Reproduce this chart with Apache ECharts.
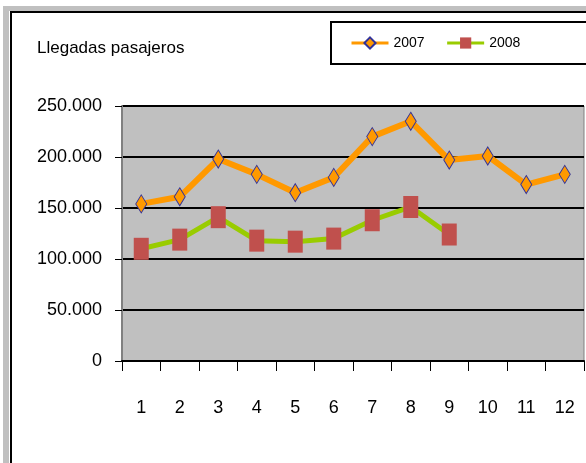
<!DOCTYPE html>
<html>
<head>
<meta charset="utf-8">
<script src="https://cdn.jsdelivr.net/npm/echarts@6/dist/echarts.min.js"></script>
<style>
html,body{margin:0;padding:0;background:#fff;}
#chart{width:586px;height:463px;}
</style>
</head>
<body>
<div id="chart"></div>
<script>
const months = ['1','2','3','4','5','6','7','8','9','10','11','12'];
const llegadas2007 = [154000, 161000, 198000, 183000, 165000, 180000, 220000, 235000, 197000, 201000, 173000, 183000];
const llegadas2008 = [110000, 119000, 141000, 118000, 117000, 120000, 138000, 151000, 124000];
const titleText = 'Llegadas pasajeros';
const seriesNames = ['2007', '2008'];

const FONT = '"Liberation Sans", Arial, sans-serif';

function fmt(v) {
  return String(v).replace(/\B(?=(\d{3})+(?!\d))/g, '.');
}

const chart = echarts.init(document.getElementById('chart'), null, {renderer: 'canvas'});
chart.setOption({
  animation: false,
  backgroundColor: '#fff',
  graphic: [
    {type: 'rect', z: -10, shape: {x: 3, y: 6, width: 700, height: 700}, style: {fill: '#C0C0C0'}},
    {type: 'rect', z: -9, shape: {x: 9, y: 11, width: 700, height: 700}, style: {fill: '#fff'}},
    {type: 'rect', z: -8, shape: {x: 11, y: 12, width: 700, height: 700}, style: {fill: '#fff', stroke: '#000', lineWidth: 2}},
    {type: 'rect', z: -7, shape: {x: 331, y: 22, width: 300, height: 42}, style: {fill: '#fff', stroke: '#000', lineWidth: 2}}
  ],
  title: {
    text: titleText,
    left: 37,
    top: 38,
    padding: 0,
    textStyle: {fontFamily: FONT, fontSize: 17, fontWeight: 'normal', color: '#000', lineHeight: 20}
  },
  legend: {
    data: seriesNames,
    left: 350,
    top: 36,
    width: 300,
    orient: 'horizontal',
    padding: 0,
    itemWidth: 37,
    itemHeight: 14,
    itemGap: 21,
    lineStyle: {width: 3},
    textStyle: {fontFamily: FONT, fontSize: 14, color: '#000'}
  },
  grid: {
    left: 122,
    right: 2,
    top: 106,
    bottom: 102,
    show: true,
    backgroundColor: '#C0C0C0',
    borderColor: '#808080',
    borderWidth: 1
  },
  xAxis: {
    type: 'category',
    data: months,
    boundaryGap: true,
    axisLine: {show: true, lineStyle: {color: '#000', width: 2}},
    axisTick: {show: true, length: 10, lineStyle: {color: '#000', width: 1}},
    axisLabel: {fontFamily: FONT, fontSize: 18, color: '#000', margin: 38},
    splitLine: {show: false}
  },
  yAxis: {
    type: 'value',
    min: 0,
    max: 250000,
    interval: 50000,
    axisLine: {show: true, lineStyle: {color: '#808080', width: 2}},
    axisTick: {show: true, length: 7, lineStyle: {color: '#000', width: 1}},
    axisLabel: {fontFamily: FONT, fontSize: 18, color: '#000', margin: 20, formatter: fmt},
    splitLine: {show: true, lineStyle: {color: '#000', width: 2}}
  },
  series: [
    {
      name: seriesNames[0],
      type: 'line',
      data: llegadas2007,
      symbol: 'diamond',
      symbolSize: [11, 18],
      lineStyle: {color: '#FF9900', width: 6},
      itemStyle: {color: '#FF9900', borderColor: '#333399', borderWidth: 1},
      z: 3
    },
    {
      name: seriesNames[1],
      type: 'line',
      data: llegadas2008,
      symbol: 'rect',
      symbolSize: [15, 22],
      lineStyle: {color: '#99CC00', width: 5},
      itemStyle: {color: '#C0504D', borderWidth: 0},
      z: 4
    }
  ]
});
</script>
</body>
</html>
